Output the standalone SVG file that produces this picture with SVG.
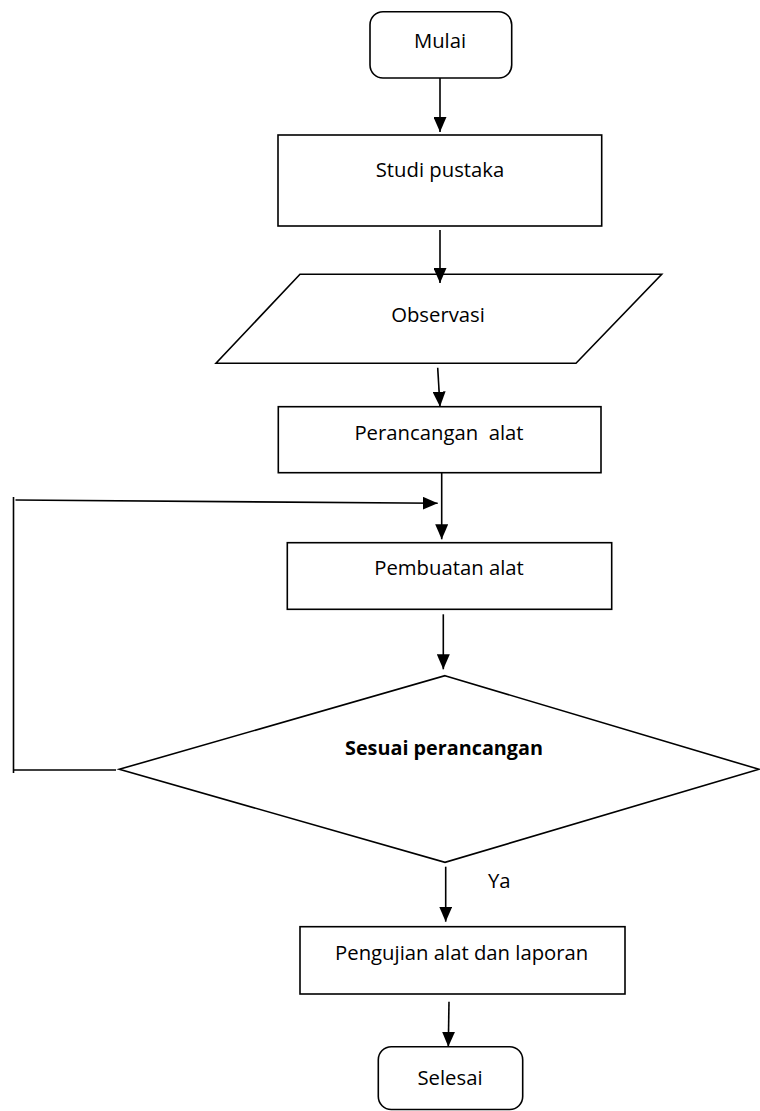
<svg xmlns="http://www.w3.org/2000/svg" width="760" height="1111" viewBox="0 0 760 1111">
  <style>
    .shape { fill: #ffffff; stroke: #000000; stroke-width: 1.6; }
    .line { fill: none; stroke: #000000; stroke-width: 1.6; }
    .label { font-family: "Open Sans", "Liberation Sans", sans-serif; font-size: 20.3px; fill: #000000; text-anchor: middle; }
    .bold { font-weight: bold; font-size: 19.8px; }
    .left { text-anchor: start; }
  </style>
  <defs>
    <marker id="arrow" viewBox="0 0 15 13" refX="15" refY="6.5" markerWidth="15" markerHeight="13" markerUnits="userSpaceOnUse" orient="auto">
      <path d="M0,0 L15,6.5 L0,13 z" fill="#000000"/>
    </marker>
  </defs>
  <rect width="760" height="1111" fill="#ffffff"/>

  <g id="mulai">
    <rect class="shape" x="370" y="11.7" width="141.7" height="66.3" rx="13" ry="13"/>
    <text class="label" x="440" y="48.3">Mulai</text>
  </g>

  <g id="studi-pustaka">
    <rect class="shape" x="278" y="135" width="323.7" height="91"/>
    <text class="label" x="440" y="176.7">Studi pustaka</text>
  </g>

  <g id="observasi">
    <polygon class="shape" points="300,274.3 661.7,274.3 576,363.3 216,363.3"/>
    <text class="label" x="438" y="321.7">Observasi</text>
  </g>

  <g id="perancangan-alat">
    <rect class="shape" x="278.3" y="406.7" width="322.7" height="66"/>
    <text class="label" x="439" y="440" xml:space="preserve">Perancangan  alat</text>
  </g>

  <g id="pembuatan-alat">
    <rect class="shape" x="287.3" y="542.7" width="324.4" height="66.6"/>
    <text class="label" x="449" y="575">Pembuatan alat</text>
  </g>

  <g id="sesuai-perancangan">
    <polygon class="shape" points="445,675.7 759,769.3 445,862.3 119.3,769.3"/>
    <text class="label bold" x="444" y="755">Sesuai perancangan</text>
  </g>

  <g id="pengujian">
    <rect class="shape" x="300" y="926.7" width="325" height="67.3"/>
    <text class="label" x="461.7" y="960">Pengujian alat dan laporan</text>
  </g>

  <g id="selesai">
    <rect class="shape" x="378.3" y="1046.7" width="144.4" height="62.8" rx="13" ry="13"/>
    <text class="label" x="450" y="1085">Selesai</text>
  </g>

  <g id="connectors">
    <line class="line" x1="440" y1="78" x2="440" y2="132" marker-end="url(#arrow)"/>
    <line class="line" x1="440" y1="230" x2="440" y2="283" marker-end="url(#arrow)"/>
    <line class="line" x1="437.7" y1="367.7" x2="440" y2="406.7" marker-end="url(#arrow)"/>
    <line class="line" x1="441.7" y1="472.7" x2="441.7" y2="539.3" marker-end="url(#arrow)"/>
    <line class="line" x1="443.3" y1="614.3" x2="443.3" y2="669.3" marker-end="url(#arrow)"/>
    <line class="line" x1="445.7" y1="866.7" x2="445.7" y2="921.7" marker-end="url(#arrow)"/>
    <line class="line" x1="449" y1="1001.7" x2="448.3" y2="1046.7" marker-end="url(#arrow)"/>
    <polyline class="line" points="116,770 13.5,770"/>
    <line class="line" x1="13.5" y1="773" x2="13.5" y2="497"/>
    <line class="line" x1="15.5" y1="500" x2="437.7" y2="503.3" marker-end="url(#arrow)"/>
    <text class="label left" x="488" y="888.3">Ya</text>
  </g>
</svg>
